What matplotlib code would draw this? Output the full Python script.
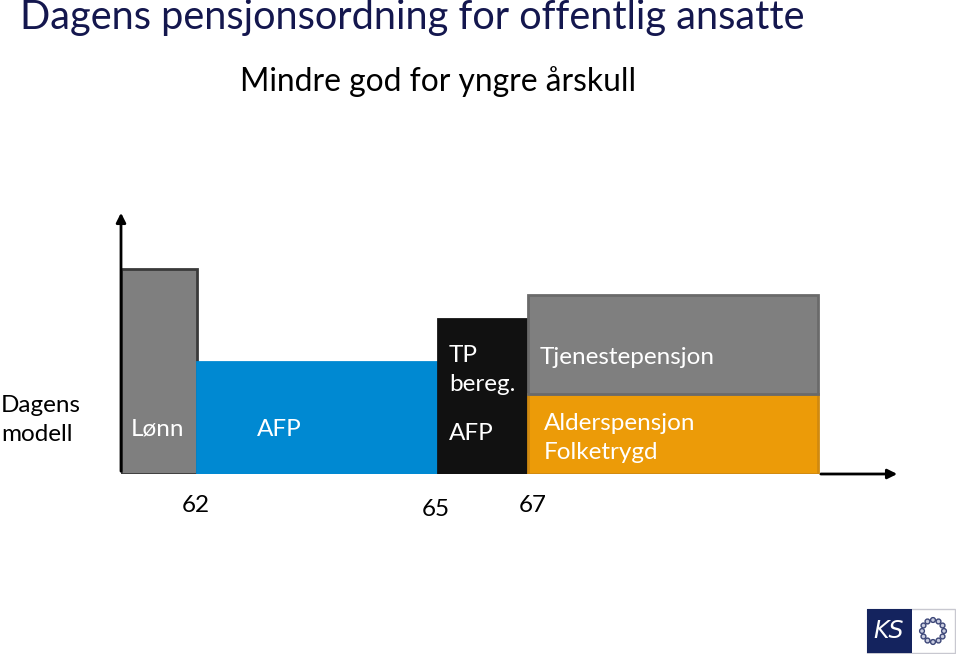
import numpy as np
import matplotlib.pyplot as plt
from matplotlib.patches import Rectangle, Circle

plt.rcParams['font.family'] = ['Lato', 'DejaVu Sans']

# Segmenter langs tidsaksen (skjematiske enheter)
labels = ['Lønn', 'AFP', 'TP\nbereg.', 'Alderspensjon\nFolketrygd', 'Tjenestepensjon']
starts = [0, 76, 317, 407, 407]
widths = [76, 241, 90, 290, 290]
bottoms = [0, 0, 0, 0, 80]
heights = [205, 112, 155, 80, 99]
colors = ['#7f7f7f', '#0089d2', '#111111', '#ec9b08', '#7f7f7f']
edges = ['#3a3a3a', '#0089d2', '#111111', '#d08a10', '#6a6a6a']

ages = ['62', '65', '67']
age_pos = [75, 315, 412]
age_y = [-31, -35, -31]

fig = plt.figure(figsize=(9.6, 6.57), dpi=100)

W, H = 960, 657
ax = fig.add_axes([121 / W, (H - 474) / H, (900 - 121) / W, (474 - 210) / H])
ax.set_xlim(0, 779)
ax.set_ylim(0, 264)
ax.axis('off')

ax.bar(starts, heights, width=widths, bottom=bottoms, align='edge',
       color=colors, edgecolor=edges, linewidth=2, zorder=2)

# akser med piler
ax.annotate('', xy=(0, 1.0), xytext=(0, 0), xycoords='axes fraction',
            arrowprops=dict(arrowstyle='-|>', color='black', lw=2, mutation_scale=14), zorder=3)
ax.annotate('', xy=(1.0, 0), xytext=(697 / 779, 0), xycoords='axes fraction',
            arrowprops=dict(arrowstyle='-|>', color='black', lw=2, mutation_scale=14), zorder=1)

fs = 17.5
# tekst i boksene
ax.text(starts[0] + 10, 45, labels[0], color='white', fontsize=fs, va='center', ha='left')
ax.text(starts[1] + 60, 45, labels[1], color='white', fontsize=fs, va='center', ha='left')
ax.text(starts[2] + 11, 104, labels[2], color='white', fontsize=fs, va='center', ha='left',
        linespacing=1.42)
ax.text(starts[2] + 11, 40, 'AFP', color='white', fontsize=fs, va='center', ha='left')
ax.text(starts[3] + 16, 36, labels[3], color='white', fontsize=fs, va='center', ha='left',
        linespacing=1.42)
ax.text(starts[4] + 12, 116, labels[4], color='white', fontsize=fs, va='center', ha='left')

for a, x, y in zip(ages, age_pos, age_y):
    ax.text(x, y, a, fontsize=fs, ha='center', va='center')

# titler
fig.text(20 / W, 1 - 18 / H, 'Dagens pensjonsordning for offentlig ansatte',
         fontsize=28.6, color='#14174e', va='center', ha='left')
fig.text(240 / W, 1 - 82 / H, 'Mindre god for yngre årskull',
         fontsize=22.9, color='black', va='center', ha='left')
fig.text(1 / W, 1 - 420 / H, 'Dagens\nmodell', fontsize=fs, color='black',
         va='center', ha='left', linespacing=1.45)

# KS-logo
lax = fig.add_axes([866 / W, (H - 654) / H, 90 / W, 46 / H])
lax.set_xlim(0, 90)
lax.set_ylim(0, 46)
lax.axis('off')
lax.add_patch(Rectangle((1, 1), 88, 44, facecolor='white', edgecolor='#c8c8d0', lw=1))
lax.add_patch(Rectangle((1, 1), 45, 44, facecolor='#14235e', edgecolor='none'))
lax.text(23, 23, 'KS', color='white', fontsize=17, style='italic',
         ha='center', va='center', family='DejaVu Sans')
ang = np.linspace(0, 2 * np.pi, 12, endpoint=False)
for t in ang:
    lax.add_patch(Circle((67 + 11 * np.cos(t), 23 + 11 * np.sin(t)), 2.4,
                         facecolor='#c9cde0', edgecolor='#3d4778', lw=1))

fig.savefig('out.png', dpi=100)
